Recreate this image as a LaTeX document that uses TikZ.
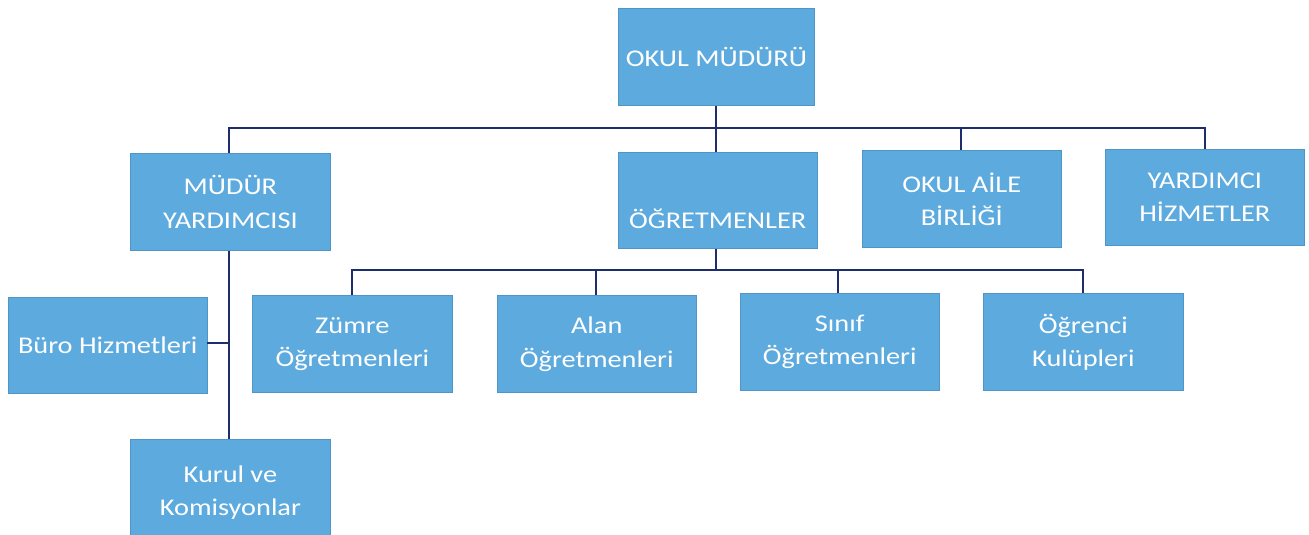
\documentclass[tikz,border=0pt]{standalone}
\usepackage{fontspec}
\setmainfont{Carlito}[FakeStretch=1.18]
\definecolor{boxblue}{RGB}{93,170,222}
\definecolor{boxedge}{RGB}{78,150,200}
\definecolor{linenavy}{RGB}{30,45,110}
\begin{document}
\begin{tikzpicture}[x=0.75pt,y=-0.75pt,
  box/.style={fill=boxblue,draw=boxedge,line width=0.6pt,anchor=north west,
    text=white,align=center,inner sep=0pt,
    font=\fontsize{18}{25}\selectfont},
  conn/.style={draw=linenavy,line width=1.6pt}]
\useasboundingbox (0,0) rectangle (1309,535);
% boxes
\node[box,minimum width=147pt,minimum height=73pt] (om) at (618,8) {OKUL MÜDÜRÜ};
\node[box,minimum width=150pt,minimum height=73pt] (my) at (130,153) {MÜDÜR\\YARDIMCISI};
\node[box,minimum width=149pt,minimum height=72pt] (og) at (618,152) {\strut\\ÖĞRETMENLER};
\node[box,minimum width=149pt,minimum height=73pt] (oab) at (862,150) {OKUL AİLE\\BİRLİĞİ};
\node[box,minimum width=149pt,minimum height=72pt] (yh) at (1105,149) {YARDIMCI\\HİZMETLER};
\node[box,minimum width=149pt,minimum height=72pt] (bh) at (8,297) {Büro Hizmetleri};
\node[box,minimum width=150pt,minimum height=73pt] (zo) at (252,295) {Zümre\\Öğretmenleri};
\node[box,minimum width=149pt,minimum height=73pt] (ao) at (497,295) {Alan\\Öğretmenleri};
\node[box,minimum width=149pt,minimum height=73pt] (so) at (740,293) {Sınıf\\Öğretmenleri};
\node[box,minimum width=150pt,minimum height=73pt] (ok) at (983,293) {Öğrenci\\Kulüpleri};
\node[box,minimum width=150pt,minimum height=80pt] (kk) at (130,439) {Kurul ve\\Komisyonlar};
% bus coordinates
\coordinate (b1) at (716,128);
\coordinate (b2) at (716,270);
\coordinate (bb) at (229,343);
% connectors level 1
\draw[conn] (om.south -| b1) -- (og.north -| b1);
\draw[conn] (my.north -| 229,0) |- (b1) -| (yh.north -| 1205,0);
\draw[conn] (oab.north -| 961,0) -- (961,128);
% connectors level 2
\draw[conn] (og.south -| b2) -- (b2);
\draw[conn] (zo.north -| 352,0) |- (b2) -| (ok.north -| 1083,0);
\draw[conn] (ao.north -| 596,0) -- (596,270);
\draw[conn] (so.north -| 838,0) -- (838,270);
% assistant branch
\draw[conn] (my.south -| bb) -- (kk.north -| bb);
\draw[conn] (bh.east |- bb) -- (bb);
\end{tikzpicture}
\end{document}
